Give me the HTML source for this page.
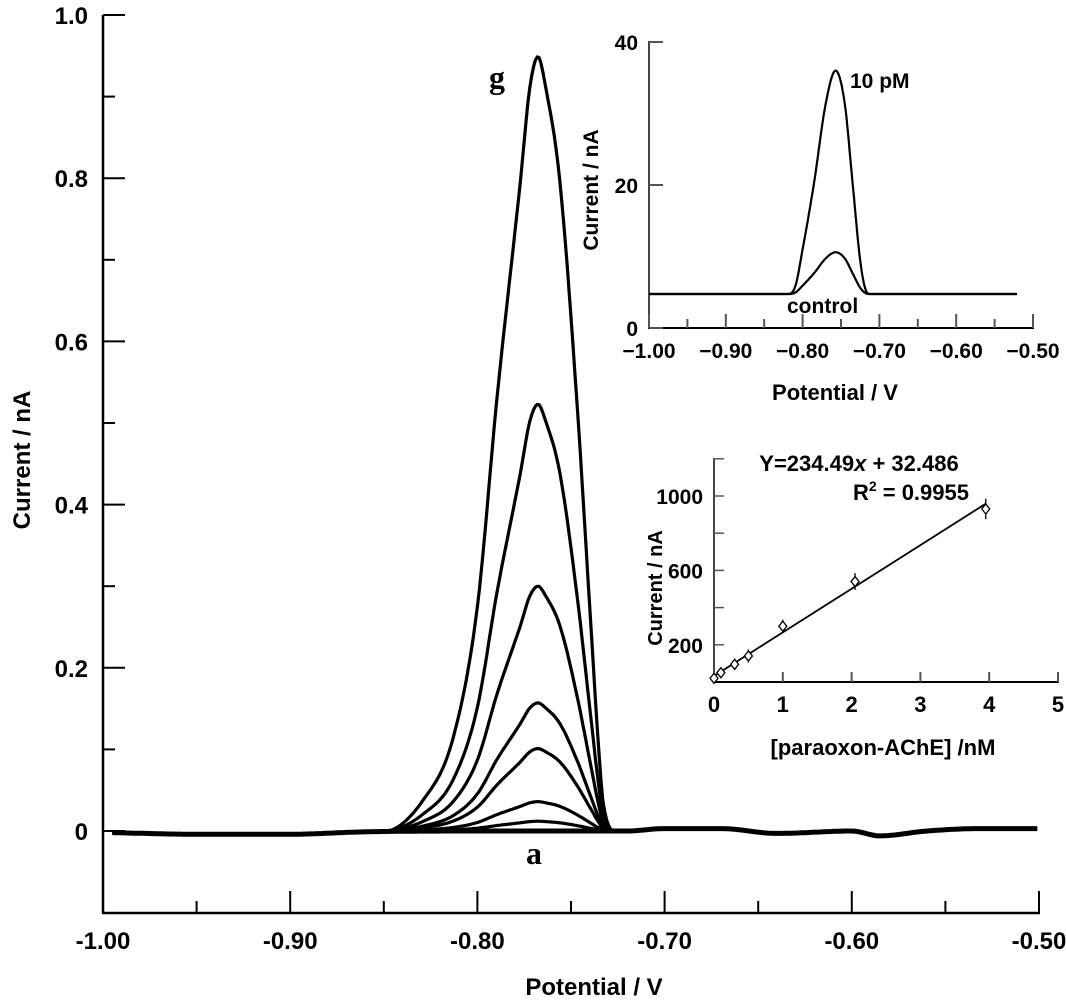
<!DOCTYPE html>
<html><head><meta charset="utf-8"><style>
html,body{margin:0;padding:0;background:#fff;}
svg{display:block;font-family:"Liberation Sans",Arial,sans-serif;}
</style></head><body>
<svg id="chart" width="1066" height="1000" viewBox="0 0 1066 1000"></svg>
<script>
// ---------- Main chart data ----------
const curveLabels = ["a","b","c","d","e","f","g"];
const peakHeights = [0.012, 0.036, 0.101, 0.157, 0.300, 0.523, 0.949];
const profileV    = [-0.870,-0.850,-0.829,-0.813,-0.800,-0.7895,-0.777,-0.772,-0.7676,-0.7635,-0.756,-0.747,-0.740,-0.7356,-0.733,-0.726,-0.715];
const profileFrac = [0, 0, 0.04, 0.12, 0.29, 0.56, 0.84, 0.96, 1, 0.96, 0.84, 0.56, 0.29, 0.12, 0.04, 0, 0];
const baseV   = [-0.995,-0.95,-0.90,-0.86,-0.80,-0.72,-0.70,-0.67,-0.64,-0.60,-0.585,-0.56,-0.53,-0.50];
const baseVal = [-0.002,-0.004,-0.004,-0.001,0,0,0.003,0.003,-0.003,0,-0.006,0,0.003,0.003];
const xTicksMain = [-1.00,-0.90,-0.80,-0.70,-0.60,-0.50];
const xTickLabelsMain = ["-1.00","-0.90","-0.80","-0.70","-0.60","-0.50"];
const yTicksMain = [0,0.2,0.4,0.6,0.8,1.0];
const yTickLabelsMain = ["0","0.2","0.4","0.6","0.8","1.0"];

// ---------- Inset 1 data ----------
const inset1Peaks = [36, 10.6];
const inset1Names = ["10 pM","control"];
const inset1Base = 4.75;
const inset1ProfV = [-0.83,-0.82,-0.81,-0.80,-0.785,-0.77,-0.757,-0.745,-0.735,-0.725,-0.718,-0.712,-0.70];
const inset1ProfF = [0,0,0.03,0.2,0.5,0.85,1,0.85,0.5,0.15,0.02,0,0];
const inset1XTicks = [-1.00,-0.90,-0.80,-0.70,-0.60,-0.50];
const inset1XLabels = ["\u22121.00","\u22120.90","\u22120.80","\u22120.70","\u22120.60","\u22120.50"];
const inset1YTicks = [0,20,40];

// ---------- Inset 2 data ----------
const calX = [0,0.1,0.3,0.5,1,2.05,3.95];
const calY = [20,50,95,140,300,540,930];
const calErr = [15,20,30,35,35,45,55];
const fitSlope = 234.49, fitIntercept = 32.486;
const cal2XTicks = [0,1,2,3,4,5];
const cal2YTicks = [200,600,1000];
const cal2YMinor = [400,800,1200];

const NS="http://www.w3.org/2000/svg";
const svg=document.getElementById('chart');
function el(tag,attrs,parent){const e=document.createElementNS(NS,tag);for(const k in attrs)e.setAttribute(k,attrs[k]);(parent||svg).appendChild(e);return e;}
// monotone cubic interpolation
function interp(xs,ys,x){const n=xs.length;if(x<=xs[0])return ys[0];if(x>=xs[n-1])return ys[n-1];
  const d=[],m=[];for(let i=0;i<n-1;i++)d.push((ys[i+1]-ys[i])/(xs[i+1]-xs[i]));
  m[0]=d[0];m[n-1]=d[n-2];for(let i=1;i<n-1;i++){m[i]=(d[i-1]*d[i]<=0)?0:(d[i-1]+d[i])/2;}
  for(let i=0;i<n-1;i++){if(d[i]===0){m[i]=0;m[i+1]=0;}else{const a=m[i]/d[i],b=m[i+1]/d[i],s=a*a+b*b;if(s>9){const t=3/Math.sqrt(s);m[i]=t*a*d[i];m[i+1]=t*b*d[i];}}}
  let i=0;while(x>xs[i+1])i++;const h=xs[i+1]-xs[i],t=(x-xs[i])/h;
  const h00=2*t*t*t-3*t*t+1,h10=t*t*t-2*t*t+t,h01=-2*t*t*t+3*t*t,h11=t*t*t-t*t;
  return h00*ys[i]+h10*h*m[i]+h01*ys[i+1]+h11*h*m[i+1];}

// Main axes
const mx=v=>103+(v+1)*1872;
const my=v=>831-v*816;
const gMain=el('g',{});


const yAxis=el('line',{x1:103,y1:15,x2:103,y2:913,stroke:'#000','stroke-width':2.5},gMain);

const xAxis=el('line',{x1:102,y1:913,x2:1040,y2:913,stroke:'#000','stroke-width':2.5},gMain);

for(let i=0;i<=10;i++){const v=-1+i*0.05;const major=i%2===0;
  const t=el('line',{x1:mx(v),x2:mx(v),y1:913,y2:913-(major?22:12),stroke:'#000','stroke-width':2},gMain);
  }
xTicksMain.forEach((v,i)=>{const t=el('text',{x:mx(v),y:949,'text-anchor':'middle','font-size':24,'font-weight':'bold'},gMain);t.textContent=xTickLabelsMain[i];
  });
for(let i=0;i<=10;i++){const v=i*0.1;const major=i%2===0;
  const t=el('line',{x1:103,x2:103+(major?22:12),y1:my(v),y2:my(v),stroke:'#000','stroke-width':2},gMain);
  }
yTicksMain.forEach((v,i)=>{const t=el('text',{x:88,y:my(v)+9,'text-anchor':'end','font-size':24,'font-weight':'bold'},gMain);t.textContent=yTickLabelsMain[i];
  });
let tt=el('text',{x:594,y:995,'text-anchor':'middle','font-size':24,'font-weight':'bold'},gMain);tt.textContent='Potential / V';

tt=el('text',{x:0,y:0,'text-anchor':'middle','font-size':24,'font-weight':'bold',transform:'translate(30,460) rotate(-90)'},gMain);tt.textContent='Current / nA';


let bd='';for(let v=-0.995;v<=-0.5001;v+=0.002){bd+=(bd?'L':'M')+mx(v).toFixed(1)+','+my(interp(baseV,baseVal,v)).toFixed(1);}
const bl=el('path',{d:bd,fill:'none',stroke:'#000','stroke-width':5},gMain);

peakHeights.forEach((h,ci)=>{let d='';
  for(let v=-0.995;v<=-0.5001;v+=0.001){const val=interp(baseV,baseVal,v)+h*interp(profileV,profileFrac,v);d+=(d?'L':'M')+mx(v).toFixed(1)+','+my(val).toFixed(1);}
  const p=el('path',{d:d,fill:'none',stroke:'#000','stroke-width':3.2,'stroke-linejoin':'round'},gMain);
  });
tt=el('text',{x:497,y:88,'text-anchor':'middle','font-size':32,'font-weight':'bold','font-family':'Liberation Serif,serif'},gMain);tt.textContent='g';

tt=el('text',{x:534,y:864,'text-anchor':'middle','font-size':32,'font-weight':'bold','font-family':'Liberation Serif,serif'},gMain);tt.textContent='a';


// Inset 1
const ix=v=>649+(v+1)*768;
const iy=v=>328-v*7.15;
const g1=el('g',{});

let a=el('line',{x1:649,y1:41,x2:649,y2:329,stroke:'#444','stroke-width':2},g1);
a=el('line',{x1:648,y1:328,x2:1034,y2:328,stroke:'#000','stroke-width':2},g1);
for(let i=0;i<=10;i++){const v=-1+i*0.05;const t=el('line',{x1:ix(v),x2:ix(v),y1:328,y2:328-(i%2===0?14:9),stroke:'#555','stroke-width':2},g1);
  }
inset1XLabels.forEach((s,i)=>{const t=el('text',{x:ix(inset1XTicks[i]),y:358,'text-anchor':'middle','font-size':21,'font-weight':'bold'},g1);t.textContent=s;
  });
inset1YTicks.forEach(v=>{const t=el('line',{x1:649,x2:663,y1:iy(v),y2:iy(v),stroke:'#555','stroke-width':2},g1);
  const l=el('text',{x:638,y:iy(v)+8,'text-anchor':'end','font-size':21,'font-weight':'bold'},g1);l.textContent=String(v);});
inset1Peaks.forEach((h,ci)=>{let d='';for(let v=-1;v<=-0.52;v+=0.001){d+=(d?'L':'M')+ix(v).toFixed(1)+','+iy(inset1Base+(h-inset1Base)*interp(inset1ProfV,inset1ProfF,v)).toFixed(1);}
  const p=el('path',{d:d,fill:'none',stroke:'#000','stroke-width':2.2},g1);});
tt=el('text',{x:850,y:88,'font-size':21,'font-weight':'bold'},g1);tt.textContent=inset1Names[0];
tt=el('text',{x:787,y:313,'font-size':21,'font-weight':'bold'},g1);tt.textContent=inset1Names[1];
tt=el('text',{x:835,y:400,'text-anchor':'middle','font-size':22,'font-weight':'bold'},g1);tt.textContent='Potential / V';
tt=el('text',{x:0,y:0,'text-anchor':'middle','font-size':21,'font-weight':'bold',transform:'translate(598,190) rotate(-90)'},g1);tt.textContent='Current / nA';

// Inset 2
const cx=v=>714+v*68.8;
const cy=v=>682-v*0.186;
const g2=el('g',{});

a=el('line',{x1:714,y1:458,x2:714,y2:683,stroke:'#444','stroke-width':2},g2);
a=el('line',{x1:713,y1:682,x2:1059,y2:682,stroke:'#000','stroke-width':2},g2);
cal2XTicks.forEach(v=>{const t=el('line',{x1:cx(v),x2:cx(v),y1:682,y2:672,stroke:'#555','stroke-width':2},g2);
  const l=el('text',{x:cx(v),y:712,'text-anchor':'middle','font-size':22,'font-weight':'bold'},g2);l.textContent=String(v);});
cal2YTicks.concat(cal2YMinor).forEach(v=>{const t=el('line',{x1:714,x2:724,y1:cy(v),y2:cy(v),stroke:'#555','stroke-width':1.5},g2);});
cal2YTicks.forEach(v=>{const l=el('text',{x:703,y:cy(v)+8,'text-anchor':'end','font-size':21,'font-weight':'bold'},g2);l.textContent=String(v);});
a=el('line',{x1:cx(0),y1:cy(fitIntercept),x2:cx(3.95),y2:cy(fitSlope*3.95+fitIntercept),stroke:'#000','stroke-width':1.8},g2);
calX.forEach((x,i)=>{const px=cx(x),py=cy(calY[i]);
  const e=el('line',{x1:px,x2:px,y1:cy(calY[i]+calErr[i]),y2:cy(calY[i]-calErr[i]),stroke:'#000','stroke-width':1.3},g2);
  const m=el('path',{d:`M${px},${py-5}L${px+4},${py}L${px},${py+5}L${px-4},${py}Z`,fill:'#fff',stroke:'#000','stroke-width':1.3},g2);});
tt=el('text',{x:859,y:471,'text-anchor':'middle','font-size':22,'font-weight':'bold'},g2);
tt.innerHTML='Y=234.49<tspan font-style="italic">x</tspan> + 32.486';
tt=el('text',{x:969,y:500,'text-anchor':'end','font-size':22,'font-weight':'bold'},g2);
tt.innerHTML='R<tspan font-size="14" dy="-9">2</tspan><tspan dy="9"> = 0.9955</tspan>';
tt=el('text',{x:883,y:755,'text-anchor':'middle','font-size':22,'font-weight':'bold'},g2);tt.textContent='[paraoxon-AChE] /nM';
tt=el('text',{x:0,y:0,'text-anchor':'middle','font-size':20,'font-weight':'bold',transform:'translate(662,588) rotate(-90)'},g2);tt.textContent='Current / nA';
</script>
</body></html>
